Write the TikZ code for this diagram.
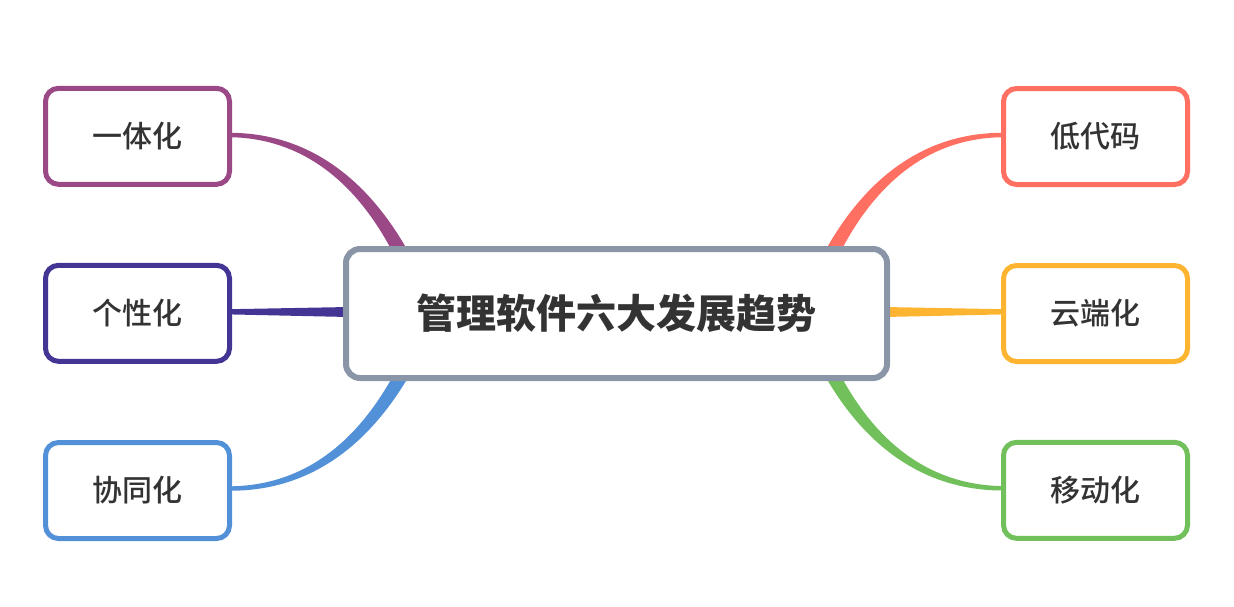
\documentclass[tikz,border=0pt]{standalone}
\usepackage{fontspec}
\setmainfont{Noto Sans CJK SC}
\newfontfamily\medfont{Noto Sans CJK SC Medium}
\usetikzlibrary{calc,backgrounds}
\definecolor{cpurple}{HTML}{9B4887}
\definecolor{cindigo}{HTML}{433594}
\definecolor{cblue}{HTML}{5290D8}
\definecolor{ccoral}{HTML}{FF7062}
\definecolor{corange}{HTML}{FDB431}
\definecolor{cgreen}{HTML}{72C05C}
\definecolor{cgray}{HTML}{8A96A8}
\definecolor{txt}{HTML}{333333}
% color, p0, p1, p2, p3, w0, w1, w2, w3 (half widths)
\newcommand\taperlink[9]{%
  \fill[#1] ($(#2)!#6!90:(#3)$) .. controls ($(#3)!#7!90:(#4)$) and ($(#4)!#8!90:(#5)$) .. ($(#5)!#9!-90:(#4)$)
    -- ($(#5)!#9!90:(#4)$) .. controls ($(#4)!#8!-90:(#5)$) and ($(#3)!#7!-90:(#4)$) .. ($(#2)!#6!-90:(#3)$) -- cycle;}
\tikzset{
  centerbox/.style={draw=cgray, line width=6pt, rounded corners=14pt, fill=white,
    minimum width=541pt, minimum height=129pt, inner sep=0pt, outer sep=0pt,
    text=txt, font=\bfseries\fontsize{40}{48}\selectfont},
  childbox/.style={draw=#1, line width=5pt, rounded corners=13pt, fill=white,
    minimum width=184pt, minimum height=96pt, inner sep=0pt, outer sep=0pt,
    text=txt, font=\medfont\fontsize{30}{36}\selectfont},
}
\begin{document}
\begin{tikzpicture}[x=1pt,y=-1pt]
\useasboundingbox (0,0) rectangle (1234,606);
\node[centerbox] (c) at (616.5,313.5) {管理软件六大发展趋势};
\node[childbox=cpurple] (a) at (137.5,136.3) {一体化};
\node[childbox=cindigo] (b) at (137.5,313.3) {个性化};
\node[childbox=cblue] (d) at (137.5,490.5) {协同化};
\node[childbox=ccoral] (e) at (1095.5,136.5) {低代码};
\node[childbox=corange] (f) at (1095.5,313.5) {云端化};
\node[childbox=cgreen] (g) at (1095.5,490.3) {移动化};
\begin{scope}[on background layer]
  % left top
  \coordinate (a0) at ($(a.east)+(0,-1.3)$);
  \coordinate (a1) at (310,135.5);
  \coordinate (a2) at (365,186);
  \coordinate (a3) at ($(c.north west)+(55,4)$);
  \taperlink{cpurple}{a0}{a1}{a2}{a3}{2.2pt}{3.6pt}{5.2pt}{7pt}
  % left middle
  \coordinate (b0) at ($(b.east)+(0,-1.5)$);
  \coordinate (b3) at ($(c.west)+(3,-1.5)$);
  \coordinate (b1) at ($(b0)!0.33!(b3)$);
  \coordinate (b2) at ($(b0)!0.66!(b3)$);
  \taperlink{cindigo}{b0}{b1}{b2}{b3}{2.6pt}{3.4pt}{4.2pt}{5pt}
  % left bottom
  \coordinate (d0) at ($(d.east)+(0,-2)$);
  \coordinate (d1) at (310,488.5);
  \coordinate (d2) at (365,440);
  \coordinate (d3) at ($(c.south west)+(56,-4)$);
  \taperlink{cblue}{d0}{d1}{d2}{d3}{2.2pt}{3.6pt}{5.2pt}{7pt}
  % right top
  \coordinate (e0) at ($(e.west)+(0,-1.5)$);
  \coordinate (e1) at (923,135);
  \coordinate (e2) at (868,185);
  \coordinate (e3) at ($(c.north east)+(-55,4)$);
  \taperlink{ccoral}{e0}{e1}{e2}{e3}{2.2pt}{3.6pt}{5.2pt}{7pt}
  % right middle
  \coordinate (f0) at ($(f.west)+(0,-1.7)$);
  \coordinate (f3) at ($(c.east)+(-3,-1.5)$);
  \coordinate (f1) at ($(f0)!0.33!(f3)$);
  \coordinate (f2) at ($(f0)!0.66!(f3)$);
  \taperlink{corange}{f0}{f1}{f2}{f3}{2.6pt}{3.4pt}{4.2pt}{5pt}
  % right bottom
  \coordinate (g0) at ($(g.west)+(0,-2)$);
  \coordinate (g1) at (923,488);
  \coordinate (g2) at (868,440);
  \coordinate (g3) at ($(c.south east)+(-55,-4)$);
  \taperlink{cgreen}{g0}{g1}{g2}{g3}{2.2pt}{3.6pt}{5.2pt}{7pt}
\end{scope}
\end{tikzpicture}
\end{document}
